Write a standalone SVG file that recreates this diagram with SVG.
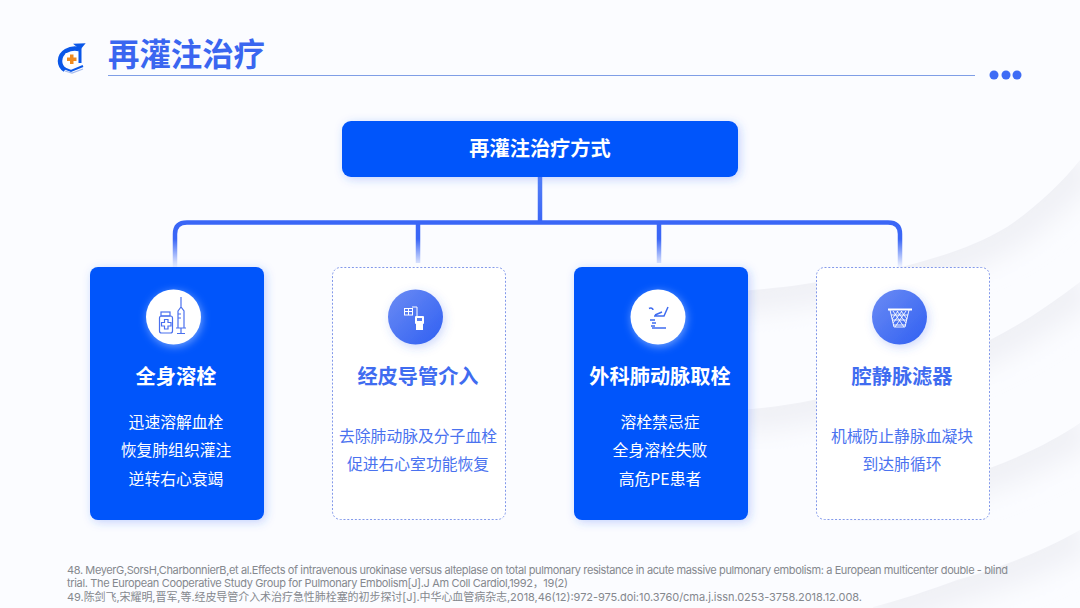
<svg xmlns="http://www.w3.org/2000/svg" width="1080" height="608" viewBox="0 0 1080 608">
<style>
text{font-family:"Noto Sans CJK SC","Noto Sans",sans-serif}
.title{font-size:31.400px;font-weight:700;fill:#3a66f0}
.head{font-size:20.200px;font-weight:700;text-anchor:middle}
.body{font-size:15.800px;text-anchor:middle}
.w{fill:#fff}
.b{fill:#3f6cf5}
.card{fill:#0055fb;filter:url(#sh)}
.dash{fill:#fff;stroke:#8399ea;stroke-width:1;stroke-dasharray:2 1.8}
.ref{font-size:11px;fill:#85888e;font-family:Inter,"Noto Sans CJK SC",sans-serif}
.conn{fill:none;stroke:url(#fade);stroke-width:4.500}
.ic{fill:none;stroke:#4a70ee;stroke-width:1.200}
.band{fill:none;stroke:#f0f1f6;stroke-width:46;filter:url(#blur)}
</style>
<defs>
<linearGradient id="fade" gradientUnits="userSpaceOnUse" x1="0" y1="176" x2="0" y2="266">
<stop offset="0" stop-color="#5580f7"/><stop offset=".5" stop-color="#3a66f6"/><stop offset=".7" stop-color="#3a66f6"/><stop offset="1" stop-color="#3a66f6" stop-opacity=".08"/>
</linearGradient>
<linearGradient id="circ" x1="0" y1="0" x2="1" y2="1"><stop offset="0" stop-color="#6c8cf4"/><stop offset="1" stop-color="#2f5ff2"/></linearGradient>
<filter id="sh" x="-20%" y="-20%" width="140%" height="140%"><feDropShadow dx="2" dy="2" stdDeviation="5" flood-color="#2a5cf5" flood-opacity=".28"/></filter>
<filter id="cs" x="-40%" y="-40%" width="180%" height="180%"><feDropShadow dx="2" dy="3" stdDeviation="5" flood-color="#3a66f0" flood-opacity=".25"/></filter>
<filter id="csw" x="-40%" y="-40%" width="180%" height="180%"><feDropShadow dx="1" dy="2" stdDeviation="4" flood-color="#ffffff" flood-opacity=".45"/></filter>
<filter id="blur" x="-10%" y="-30%" width="120%" height="160%"><feGaussianBlur stdDeviation="12"/></filter>
<clipPath id="c1"><path d="M1080 160C1060 185 1035 208 1007 227C980 243 955 252 927 260C900 268 870 274 840 278C800 286 750 292 690 293V608H1080Z"/></clipPath>
<clipPath id="c2"><path d="M1080 282C1050 305 1020 325 990 340C940 365 880 388 813 400C790 405 765 408 740 410V608H1080Z"/></clipPath>
<clipPath id="c3"><path d="M1080 423C1055 440 1025 455 990 468C950 483 900 494 850 498V608H1080Z"/></clipPath>
<clipPath id="c4"><path d="M1080 530C1045 550 1000 568 957 580C930 590 900 600 873 607V608H1080Z"/></clipPath>
</defs>

<g id="background">
<rect width="1080" height="608" fill="#fbfcff"/>
<path clip-path="url(#c1)" class="band" d="M1080 160C1060 185 1035 208 1007 227C980 243 955 252 927 260C900 268 870 274 840 278C800 286 750 292 690 293"/>
<path clip-path="url(#c2)" class="band" d="M1080 282C1050 305 1020 325 990 340C940 365 880 388 813 400C790 405 765 408 740 410"/>
<path clip-path="url(#c3)" class="band" d="M1080 423C1055 440 1025 455 990 468C950 483 900 494 850 498"/>
<path clip-path="url(#c4)" class="band" d="M1080 530C1045 550 1000 568 957 580C930 590 900 600 873 607"/>
</g>

<g id="header">
<path d="M79 49C70 47 60 52 60 61C60 65 62 68 65 70" fill="none" stroke="#0a57e8" stroke-width="4.500"/>
<path d="M79 50L84 44L75 44.500L78 47Z" fill="#0a57e8" stroke="#0a57e8" stroke-width="1.500"/>
<path d="M80 48L80 63" fill="none" stroke="#0a57e8" stroke-width="3"/>
<path d="M65.500 53H78V62C76 65 73 67 71.500 67C69 66 65.500 64 65.500 61Z" fill="#fff"/>
<rect x="70" y="54.500" width="3.500" height="9.500" fill="#f08a1e"/><rect x="67" y="57.500" width="9.500" height="3.500" fill="#f08a1e"/>
<path d="M61 67L71 71L83 66" fill="none" stroke="#0a57e8" stroke-width="2"/>
<path d="M65 71L72 73L83 69" fill="none" stroke="#a5bbee" stroke-width="1.200"/>
<text class="title" x="108" y="66">再灌注治疗</text>
<rect x="108" y="75" width="867" height="1" fill="#7f9ee6"/>
<circle cx="994" cy="75" r="4.500" class="b"/><circle cx="1006" cy="75" r="4.500" class="b"/><circle cx="1017" cy="75" r="4.500" class="b"/>
</g>

<g id="connectors">
<path class="conn" d="M540 177V222.500"/>
<path class="conn" d="M175 267V234Q175 222.500 187 222.500H888Q900 222.500 900 234V267"/>
<path class="conn" d="M418 222.500V263"/>
<path class="conn" d="M659 222.500V263"/>
</g>

<g id="root">
<rect x="342" y="121" width="396" height="56" rx="9" class="card"/>
<text x="540" y="156" class="head w">再灌注治疗方式</text>
</g>

<g id="card1">
<rect x="90" y="267" width="174" height="253" rx="8" class="card"/>
<circle cx="173.500" cy="317" r="27.500" fill="#fff" filter="url(#csw)"/>
<g class="ic">
<rect x="161" y="312" width="9" height="4"/><rect x="159.500" y="316" width="13" height="17" rx="2"/>
<path d="M164.500 321h3.500v3h3v3.500h-3v3h-3.500v-3h-3v-3.500h3z" transform="translate(0 -1.500)"/>
<path d="M178 311l3 -4 3 4v17h-6zM181 297v10M178 318h3M178 314h3M176 328h10M181 328v6M177 333.500h8"/>
</g>
<text x="176" y="384" class="head w">全身溶栓</text>
<text x="176" y="428" class="body w">迅速溶解血栓</text>
<text x="176" y="456" class="body w">恢复肺组织灌注</text>
<text x="176" y="485" class="body w">逆转右心衰竭</text>
</g>

<g id="card2">
<rect x="332.500" y="267.500" width="173" height="252" rx="8" class="dash"/>
<circle cx="415.500" cy="317" r="27.500" fill="url(#circ)" filter="url(#cs)"/>
<g fill="none" stroke="#fff" stroke-width="1"><rect x="404.500" y="308.500" width="8" height="6.500"/><path d="M404.500 311.500h8M408.500 308.500v6.500M412 307h5v9"/></g>
<rect x="415" y="316" width="9" height="8" rx="1" fill="#fff"/><rect x="416" y="324" width="7" height="6" fill="#fff"/><rect x="417" y="318" width="5" height="3" fill="#5b7ff0"/>
<text x="418" y="384" class="head" fill="#3f6cf0">经皮导管介入</text>
<text x="418" y="442" class="body" fill="#4a72ef">去除肺动脉及分子血栓</text>
<text x="418" y="470" class="body" fill="#4a72ef">促进右心室功能恢复</text>
</g>

<g id="card3">
<rect x="574" y="267" width="174" height="253" rx="8" class="card"/>
<circle cx="658" cy="317" r="27.500" fill="#fff" filter="url(#csw)"/>
<g fill="none" stroke="#3f6cf0" stroke-width="1.500"><path d="M649 308.500c2 -1 4 0 4 1.500M668 307l-4 9h-10M655 315l7 -3M650 320h5M652 323h4M651 326h4M652 328h14"/></g>
<text x="660" y="384" class="head w">外科肺动脉取栓</text>
<text x="660" y="428" class="body w">溶栓禁忌症</text>
<text x="660" y="456" class="body w">全身溶栓失败</text>
<text x="660" y="485" class="body w">高危PE患者</text>
</g>

<g id="card4">
<rect x="816.500" y="267.500" width="173" height="252" rx="8" class="dash"/>
<circle cx="899.500" cy="317" r="27.500" fill="url(#circ)" filter="url(#cs)"/>
<g fill="none" stroke="#fff"><path d="M888 309.500h24" stroke-width="2"/><path d="M890 310l4 17h11l4 -17M893 311l11 16M897 311l9 12M901 311l6 8M906 311l-11 16M902 311l-9 12M898 311l-6 8M891 315h17M892 320h15M893 325h13" stroke-width=".9"/></g>
<text x="902" y="384" class="head" fill="#3f6cf0">腔静脉滤器</text>
<text x="902" y="442" class="body" fill="#4a72ef">机械防止静脉血凝块</text>
<text x="902" y="470" class="body" fill="#4a72ef">到达肺循环</text>
</g>

<g id="references">
<text class="ref" x="67" y="574" textLength="941">48. MeyerG,SorsH,CharbonnierB,et al.Effects of intravenous urokinase versus alteplase on total pulmonary resistance in acute massive pulmonary embolism: a European multicenter double - blind</text>
<text class="ref" x="67" y="587" textLength="501">trial. The European Cooperative Study Group for Pulmonary Embolism[J].J Am Coll Cardiol,1992，19(2)</text>
<text class="ref" x="67" y="601" textLength="795">49.陈剑飞,宋耀明,晋军,等.经皮导管介入术治疗急性肺栓塞的初步探讨[J].中华心血管病杂志,2018,46(12):972-975.doi:10.3760/cma.j.issn.0253-3758.2018.12.008.</text>
</g>
</svg>
